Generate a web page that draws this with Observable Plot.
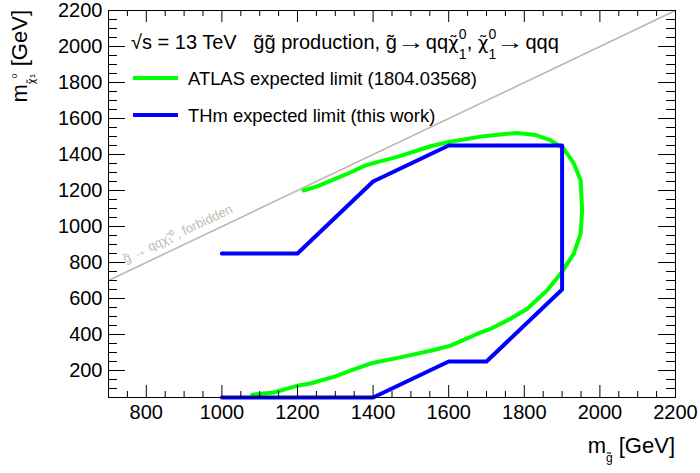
<!DOCTYPE html>
<html><head><meta charset="utf-8">
<script src="https://cdn.jsdelivr.net/npm/d3@7"></script>
<script src="https://cdn.jsdelivr.net/npm/@observablehq/plot@0.6"></script>
<style>
body{margin:0;background:#fff;font-family:"Liberation Sans",Arial,sans-serif;}
#wrap{position:relative;width:700px;height:473px;overflow:hidden;}
.ov{position:absolute;white-space:nowrap;color:#000;line-height:1;}
.st{display:inline-block;position:relative;width:8px;height:10px;}
.st .sp{position:absolute;left:0px;top:-12px;font-size:14px;line-height:1;}
.st .sb{position:absolute;left:0px;top:8px;font-size:14px;line-height:1;}
.chi{font-family:"DejaVu Sans",sans-serif;font-size:0.92em;}
.arr{display:inline-block;transform:scaleX(1.4);transform-origin:0 50%;margin-right:9px;}
</style></head><body><div id="wrap"></div>
<script>
// ATLAS expected limit (1804.03568)
const atlasX = [1216,1250,1287,1340,1375,1401,1464,1552,1596,1693,1781,1830,1869,1904,1931,1949,1953,1949,1931,1896,1860,1807,1763,1710,1675,1605,1561,1472,1398,1340,1296,1234,1199,1137,1080];
const atlasY = [1200,1222,1253,1300,1335,1352,1387,1446,1468,1502,1520,1508,1480,1434,1350,1257,1090,960,849,737,644,542,487,431,403,338,314,273,242,199,165,128,115,78,65];
// THm expected limit (this work)
const thmX = [1000,1200,1400,1600,1900,1900,1700,1600,1400,1000];
const thmY = [850,850,1250,1450,1450,650,250,250,50,50];
// kinematic boundary m_gluino = m_neutralino
const kinX = [700,2200];
const kinY = [700,2200];
// axes
const xDomain = [700,2200];
const yDomain = [50,2200];
const xMajor = [800,1000,1200,1400,1600,1800,2000,2200];
const yMajor = [200,400,600,800,1000,1200,1400,1600,1800,2000,2200];
const xMinor = d3.range(750,2200,50).filter(v => !xMajor.includes(v));
const yMinor = d3.range(100,2200,50).filter(v => !yMajor.includes(v));

const W = 700, H = 473, mL = 108, mR = 25, mT = 10, mB = 76;
const fw = W - mL - mR, fh = H - mT - mB;

const atlas = atlasX.map((x,i)=>({x, y: atlasY[i]}));
const thm = thmX.map((x,i)=>({x, y: thmY[i]}));
const kin = kinX.map((x,i)=>({x, y: kinY[i]}));

const chart = Plot.plot({
  width: W, height: H,
  marginLeft: mL, marginRight: mR, marginTop: mT, marginBottom: mB,
  style: {fontFamily: '"Liberation Sans", Arial, sans-serif', background: "#fff", color: "#000"},
  x: {domain: xDomain},
  y: {domain: yDomain},
  marks: [
    Plot.line(kin, {x: "x", y: "y", stroke: "#bfb5ad", strokeWidth: 1.6}),
    Plot.text([kin[0]], {x: d => d.x + 45, y: d => d.y + 45, text: () => "g\u0303 \u2192 qq\u03C7\u0303\u2081\u2070, forbidden",
      rotate: -25.4, textAnchor: "start", lineAnchor: "bottom", dy: -9, fontSize: 13, fill: "#c3bbb3"}),
    Plot.line(atlas, {x: "x", y: "y", stroke: "#00ff00", strokeWidth: 4}),
    Plot.line(thm, {x: "x", y: "y", stroke: "#0000ff", strokeWidth: 4}),
    Plot.frame({stroke: "#000", strokeWidth: 1}),
    Plot.tickX(xMajor, {x: d => d, insetTop: fh - 12, stroke: "#000"}),
    Plot.tickX(xMinor, {x: d => d, insetTop: fh - 6, stroke: "#000"}),
    Plot.tickX(xMajor, {x: d => d, insetBottom: fh - 12, stroke: "#000"}),
    Plot.tickX(xMinor, {x: d => d, insetBottom: fh - 6, stroke: "#000"}),
    Plot.tickY(yMajor, {y: d => d, insetRight: fw - 17, stroke: "#000"}),
    Plot.tickY(yMinor, {y: d => d, insetRight: fw - 9, stroke: "#000"}),
    Plot.tickY(yMajor, {y: d => d, insetLeft: fw - 17, stroke: "#000"}),
    Plot.tickY(yMinor, {y: d => d, insetLeft: fw - 9, stroke: "#000"}),
    Plot.axisX(xMajor, {tickSize: 0, tickPadding: 7, fontSize: 20, label: null, tickFormat: d => String(d)}),
    Plot.axisY(yMajor, {tickSize: 0, tickPadding: 6, fontSize: 20, label: null, tickFormat: d => String(d)})
  ]
});
const wrap = document.getElementById("wrap");
wrap.appendChild(chart);

const stack = (sup, sub) => `<span class="st"><span class="sp">${sup}</span><span class="sb">${sub}</span></span>`;
const chi = `<span class="chi">\u03C7\u0303</span>`;
const arrow = `<span class="arr">\u2192</span>`;
const title = document.createElement("div");
title.className = "ov";
title.style.cssText = "left:131px;top:32px;font-size:20px;";
title.innerHTML = `√s = 13 TeV&nbsp;&nbsp;&nbsp;g\u0303g\u0303 production, g\u0303${arrow}qq${chi}${stack("0","1")}, ${chi}${stack("0","1")}${arrow}qqq`;
wrap.appendChild(title);

const leg = [
  {color: "#00ff00", label: "ATLAS expected limit (1804.03568)", y: 78},
  {color: "#0000ff", label: "THm expected limit (this work)", y: 115}
];
for (const l of leg) {
  const sw = document.createElement("div");
  sw.className = "ov";
  sw.style.cssText = `left:133px;top:${l.y-2}px;width:45px;height:4px;background:${l.color};`;
  wrap.appendChild(sw);
  const t = document.createElement("div");
  t.className = "ov";
  t.style.cssText = `left:188px;top:${l.y-8}px;font-size:18.4px;`;
  t.textContent = l.label;
  wrap.appendChild(t);
}

const xl = document.createElement("div");
xl.className = "ov";
xl.style.cssText = "right:25px;top:435px;font-size:22px;";
xl.innerHTML = `m<span style="font-size:12px;position:relative;top:9px;">g\u0303</span> [GeV]`;
wrap.appendChild(xl);

const yl = document.createElement("div");
yl.className = "ov";
yl.style.cssText = "left:9px;top:210px;width:200px;text-align:right;font-size:22px;transform:rotate(-90deg);transform-origin:0 0;";
yl.innerHTML = `m<span style="font-size:11px;position:relative;top:8px;">${chi}</span><span style="display:inline-block;position:relative;width:6px;height:10px;"><span style="position:absolute;left:0;top:-6px;font-size:8px;">0</span><span style="position:absolute;left:0;top:12px;font-size:8px;">1</span></span> [GeV]`;
wrap.appendChild(yl);
</script>
</body></html>
